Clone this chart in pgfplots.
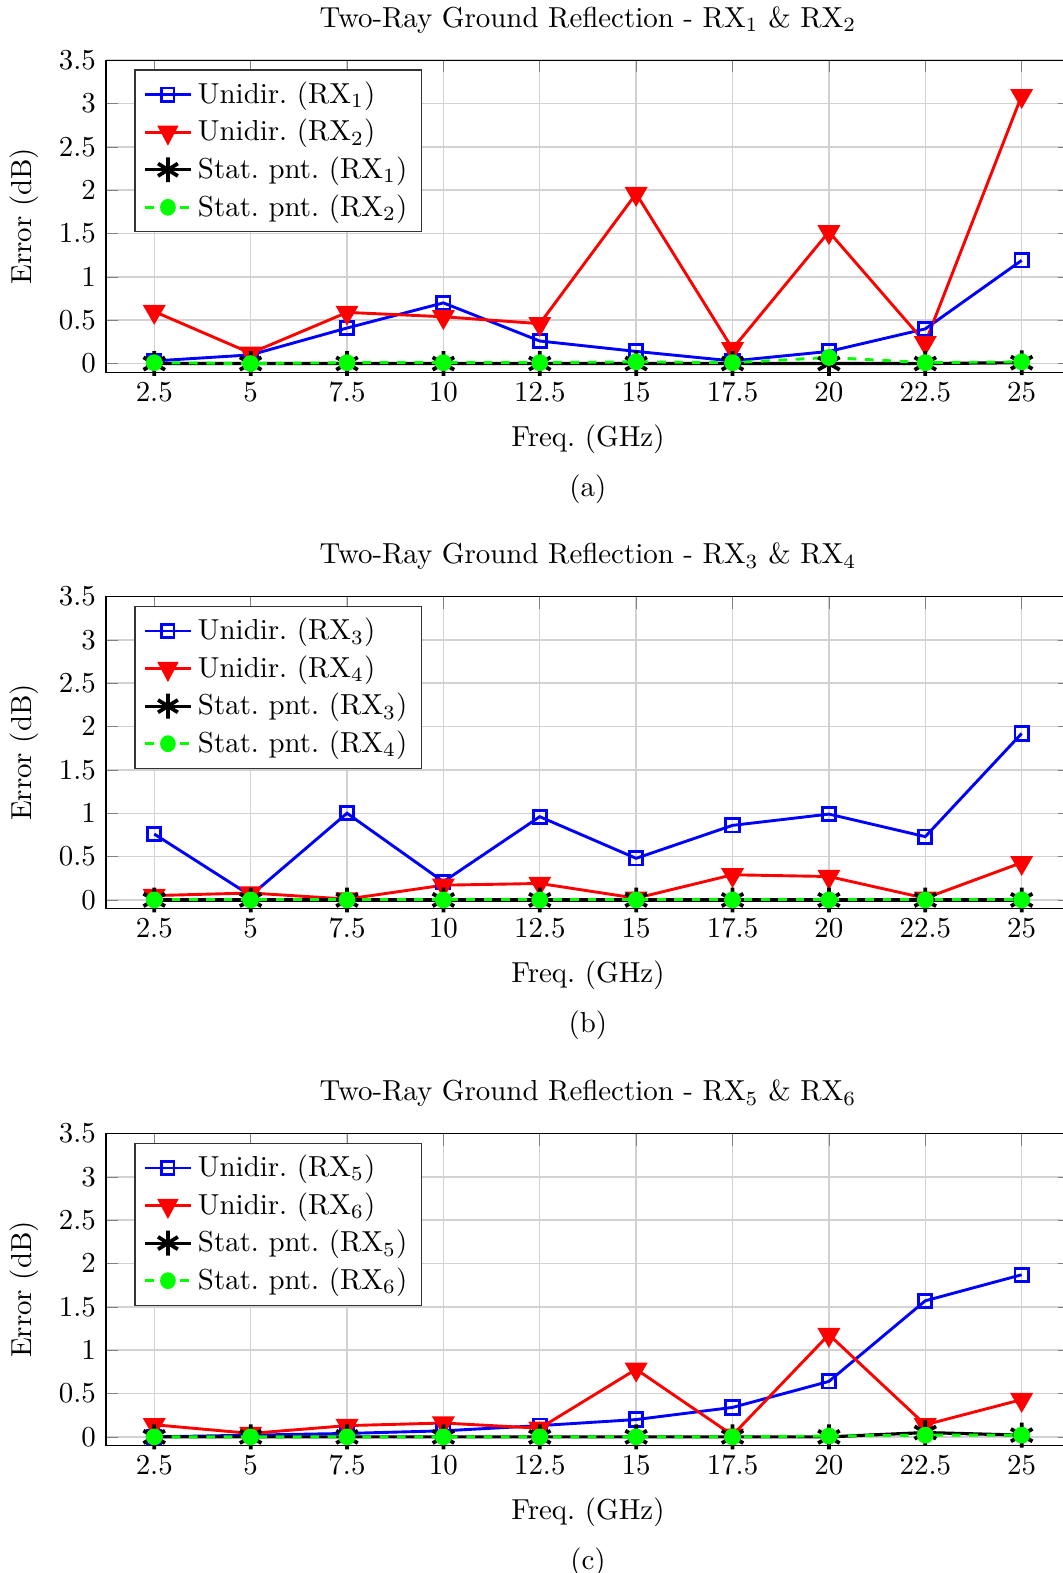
\documentclass[border=0pt]{standalone}
\usepackage{pgfplots}
\pgfplotsset{compat=1.18}
\pgfplotstableread{
x     b     r     k     g
2.5   0.03  0.60  0.00  0.01
5     0.10  0.12  0.00  0.00
7.5   0.41  0.59  0.00  0.01
10    0.70  0.54  0.00  0.01
12.5  0.26  0.46  0.00  0.01
15    0.14  1.96  0.00  0.02
17.5  0.03  0.17  0.00  0.01
20    0.14  1.52  0.00  0.07
22.5  0.40  0.24  0.00  0.01
25    1.19  3.09  0.01  0.02
}\dataA
\pgfplotstableread{
x     b     r     k     g
2.5   0.76  0.05  0.00  0.00
5     0.05  0.08  0.00  0.00
7.5   1.00  0.01  0.00  0.00
10    0.21  0.17  0.00  0.00
12.5  0.96  0.19  0.00  0.00
15    0.48  0.02  0.00  0.00
17.5  0.86  0.29  0.00  0.00
20    0.99  0.27  0.00  0.00
22.5  0.73  0.02  0.00  0.00
25    1.92  0.43  0.00  0.00
}\dataB
\pgfplotstableread{
x     b     r     k     g
2.5   0.00  0.14  0.00  0.00
5     0.02  0.04  0.00  0.00
7.5   0.04  0.13  0.00  0.00
10    0.07  0.16  0.00  0.00
12.5  0.13  0.10  0.00  0.00
15    0.20  0.78  0.00  0.00
17.5  0.34  0.02  0.00  0.00
20    0.64  1.18  0.00  0.01
22.5  1.57  0.14  0.05  0.02
25    1.87  0.43  0.02  0.02
}\dataC
\pgfplotsset{
  myaxis/.style={
    scale only axis, width=333.5pt, height=108pt,
    xmin=1.25, xmax=26.25, ymin=-0.1, ymax=3.5,
    xtick={2.5,5,7.5,10,12.5,15,17.5,20,22.5,25},
    ytick={0,0.5,1,1.5,2,2.5,3,3.5},
    grid=major, grid style={gray!35, line width=0.5pt},
    xlabel={Freq.\ (GHz)}, ylabel={Error (dB)},
    xlabel style={at={(axis description cs:0.5,0)}, anchor=base, yshift=-25.6pt},
    ylabel style={at={(axis description cs:-0.085,0.5)}, anchor=center},
    title style={at={(axis description cs:0.5,1)}, anchor=base, yshift=5.3pt},
    legend style={at={(0.0294,0.97)}, anchor=north west, legend cell align=left, draw=black!80},
    legend image post style={xscale=0.92},
  },
  sb/.style={blue, line width=1pt, mark=square, mark size=2.3pt, mark options={solid}},
  sr/.style={red, line width=1pt, mark=triangle*, mark size=3.6pt, mark options={solid, rotate=180}},
  sk/.style={black, line width=1.1pt, mark=asterisk, mark size=4.3pt, mark options={solid, line width=1.3pt}},
  sg/.style={green, line width=1pt, dashed, mark=*, mark size=2.4pt, mark options={solid}},
}
\begin{document}
\begin{tikzpicture}
\useasboundingbox (-36.7pt,20.8pt) rectangle (331.1pt,-523.5pt);
\begin{axis}[myaxis, name=ax1, at={(0,0)}, anchor=north west,
  title={Two-Ray Ground Reflection - RX$_1$ \& RX$_2$}]
\addplot[sb] table[x=x,y=b]{\dataA};
\addlegendentry{Unidir.\ (RX$_1$)}
\addplot[sr] table[x=x,y=r]{\dataA};
\addlegendentry{Unidir.\ (RX$_2$)}
\addplot[sk] table[x=x,y=k]{\dataA};
\addlegendentry{Stat.\ pnt.\ (RX$_1$)}
\addplot[sg] table[x=x,y=g]{\dataA};
\addlegendentry{Stat.\ pnt.\ (RX$_2$)}
\end{axis}
\node[anchor=base] at ([yshift=-43pt]ax1.south) {(a)};
\begin{axis}[myaxis, name=ax2, at={(0,-185.6pt)}, anchor=north west,
  title={Two-Ray Ground Reflection - RX$_3$ \& RX$_4$}]
\addplot[sb] table[x=x,y=b]{\dataB};
\addlegendentry{Unidir.\ (RX$_3$)}
\addplot[sr] table[x=x,y=r]{\dataB};
\addlegendentry{Unidir.\ (RX$_4$)}
\addplot[sk] table[x=x,y=k]{\dataB};
\addlegendentry{Stat.\ pnt.\ (RX$_3$)}
\addplot[sg] table[x=x,y=g]{\dataB};
\addlegendentry{Stat.\ pnt.\ (RX$_4$)}
\end{axis}
\node[anchor=base] at ([yshift=-43pt]ax2.south) {(b)};
\begin{axis}[myaxis, name=ax3, at={(0,-371.4pt)}, anchor=north west,
  title={Two-Ray Ground Reflection - RX$_5$ \& RX$_6$}]
\addplot[sb] table[x=x,y=b]{\dataC};
\addlegendentry{Unidir.\ (RX$_5$)}
\addplot[sr] table[x=x,y=r]{\dataC};
\addlegendentry{Unidir.\ (RX$_6$)}
\addplot[sk] table[x=x,y=k]{\dataC};
\addlegendentry{Stat.\ pnt.\ (RX$_5$)}
\addplot[sg] table[x=x,y=g]{\dataC};
\addlegendentry{Stat.\ pnt.\ (RX$_6$)}
\end{axis}
\node[anchor=base] at ([yshift=-43pt]ax3.south) {(c)};
\end{tikzpicture}
\end{document}
